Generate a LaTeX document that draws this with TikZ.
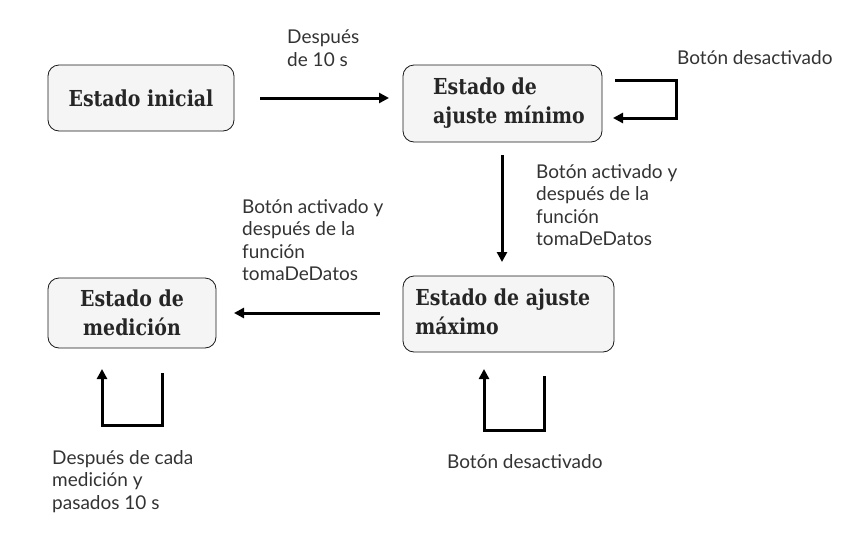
\documentclass[tikz,border=0pt]{standalone}
\usepackage{fontspec}
\setmainfont{Lato}
\newfontfamily\boxfont[FakeStretch=0.86]{DejaVu Serif}
\usetikzlibrary{arrows.meta}
\begin{document}
\begin{tikzpicture}[x=1pt,y=-1pt,
  state/.style={draw=black!90, line width=0.8pt, fill=gray!8, rounded corners=11pt, inner sep=0pt,
    font=\boxfont\bfseries\fontsize{22}{29}\selectfont, text=black!85},
  boxtxt/.style={inner sep=0pt, align=left, font=\boxfont\bfseries\fontsize{22}{29}\selectfont, text=black!85},
  lbl/.style={anchor=north west, align=left, inner sep=0pt, font=\fontsize{19}{22.6}\selectfont, text=black!80},
  conn/.style={line width=3pt, -{Triangle[length=10pt,width=10pt]}}]
\useasboundingbox (0,0) rectangle (862,549);
% states
\node[state, minimum width=186pt, minimum height=66pt] (ini) at (141,98) {Estado inicial};
\node[state, minimum width=199pt, minimum height=77pt] (min) at (502.5,103.5) {};
\node[boxtxt, anchor=west] (mintxt) at (433,103.5) {Estado de\\ajuste mínimo};
\node[state, minimum width=168pt, minimum height=70pt, align=center] (med) at (132,313) {Estado de\\medición};
\node[state, minimum width=211pt, minimum height=76pt, align=left] (max) at (508.5,314) {Estado de ajuste\\máximo\phantom{ de ajuste}};
% ini -> min
\coordinate (a1) at (260,98);
\coordinate (a2) at (389,98);
\draw[conn] (a1) -- (a2);
\node[lbl] (l1) at (287,30) {Después\\de 10 s};
% min self loop
\coordinate (m1) at (615,80);
\coordinate (m2) at (676,80);
\coordinate (m3) at (676,118);
\coordinate (m4) at (613,118);
\draw[conn] (m1) -- (m2) -- (m3) -- (m4);
\node[lbl] (l2) at (677,50) {Botón desactivado};
% min -> max
\coordinate (v1) at (502,155);
\coordinate (v2) at (502,262);
\draw[conn] (v1) -- (v2);
\node[lbl] (l3) at (536,164) {Botón activado y\\después de la\\función\\tomaDeDatos};
% max -> med
\coordinate (h1) at (380,313);
\coordinate (h2) at (234,313);
\draw[conn] (h1) -- (h2);
\node[lbl] (l4) at (242,199) {Botón activado y\\después de la\\función\\tomaDeDatos};
% med self loop
\coordinate (p1) at (162,373);
\coordinate (p2) at (162,425);
\coordinate (p3) at (102,425);
\coordinate (p4) at (102,369);
\draw[conn] (p1) -- (p2) -- (p3) -- (p4);
\node[lbl] (l5) at (52,450) {Después de cada\\medición y\\pasados 10 s};
% max self loop
\coordinate (q1) at (544,376);
\coordinate (q2) at (544,430);
\coordinate (q3) at (484,430);
\coordinate (q4) at (484,369);
\draw[conn] (q1) -- (q2) -- (q3) -- (q4);
\node[lbl] (l6) at (447,454) {Botón desactivado};
\end{tikzpicture}
\end{document}
